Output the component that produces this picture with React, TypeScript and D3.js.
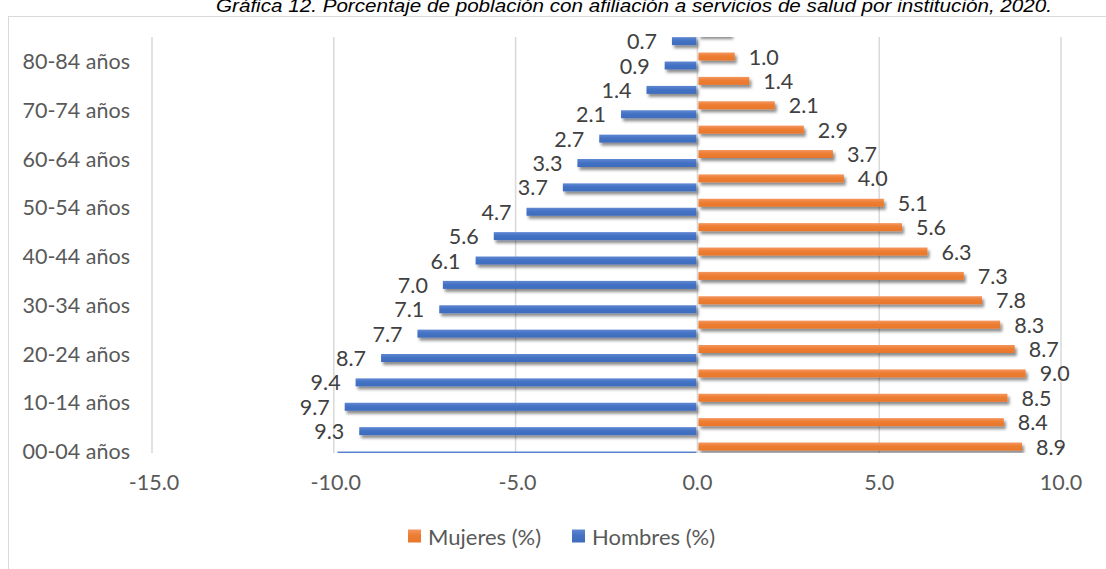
import React from "react";
import * as d3 from "d3";

const ages = [
  "00-04 años", "05-09 años", "10-14 años", "15-19 años", "20-24 años", "25-29 años",
  "30-34 años", "35-39 años", "40-44 años", "45-49 años", "50-54 años", "55-59 años",
  "60-64 años", "65-69 años", "70-74 años", "75-79 años", "80-84 años", "85 años y más",
];
const hombres = [9.9, 9.3, 9.7, 9.4, 8.7, 7.7, 7.1, 7.0, 6.1, 5.6, 4.7, 3.7, 3.3, 2.7, 2.1, 1.4, 0.9, 0.7];
const mujeres = [8.9, 8.4, 8.5, 9.0, 8.7, 8.3, 7.8, 7.3, 6.3, 5.6, 5.1, 4.0, 3.7, 2.9, 2.1, 1.4, 1.0, 0.9];
const xTicks = [-15, -10, -5, 0, 5, 10];
const seriesNames = ["Mujeres (%)", "Hombres (%)"];
const title = "Gráfica 12. Porcentaje de población con afiliación a servicios de salud por institución, 2020.";

const W = 1106;
const H = 569;
const FONT = "Lato, 'Open Sans', sans-serif";
const FS = 21.5;
const ORANGE = "#ED7D31";
const BLUE = "#4472C4";

export default function App() {
  const x = d3.scaleLinear().domain([-15, 10]).range([152, 1061]);
  const y = d3.scalePoint<string>().domain(ages).range([451, 451 - 17 * 24.375]);
  const clipTop = 37;
  const clipBottom = 453;
  const barH = 8;
  const off = 4.5;
  const fmt = (v: number) => d3.format(".1f")(v).replace("\u2212", "-");

  return (
    <svg width={W} height={H} style={{ position: "absolute", left: 0, top: 0, background: "#fff" }}>
      <defs>
        <clipPath id="plotClip">
          <rect x={0} y={clipTop} width={W} height={clipBottom - clipTop} />
        </clipPath>
        <filter id="sh" filterUnits="userSpaceOnUse" x={0} y={0} width={W} height={H}>
          <feDropShadow dx={2} dy={3} stdDeviation={1.6} floodColor="#000" floodOpacity={0.45} />
        </filter>
        <linearGradient id="gO" x1="0" y1="0" x2="0" y2="1">
          <stop offset="0" stopColor="#F49660" />
          <stop offset="0.45" stopColor={ORANGE} />
          <stop offset="1" stopColor="#E8772C" />
        </linearGradient>
        <linearGradient id="gB" x1="0" y1="0" x2="0" y2="1">
          <stop offset="0" stopColor="#6088D2" />
          <stop offset="0.45" stopColor={BLUE} />
          <stop offset="1" stopColor="#3F6CBD" />
        </linearGradient>
      </defs>
      <rect x={0} y={0} width={W} height={H} fill="#fff" />
      <text
        x={634}
        y={12}
        textAnchor="middle"
        fontFamily="Arial, 'Liberation Sans', sans-serif"
        fontStyle="italic"
        fontSize={18}
        fill="#000"
        textLength={836}
        lengthAdjust="spacingAndGlyphs"
      >
        {title}
      </text>
      <rect x={8.5} y={16.5} width={W + 10} height={H + 10} fill="none" stroke="#d9d9d9" strokeWidth={1} />

      {/* gridlines */}
      {xTicks.map((t) => (
        <line key={t} x1={x(t)} x2={x(t)} y1={clipTop} y2={clipBottom} stroke="#d9d9d9" strokeWidth={1.5} />
      ))}

      {/* bars */}
      <g clipPath="url(#plotClip)">
        {ages.map((a, i) => (
          <g key={a}>
            <rect
              x={x(0) + 1}
              y={(y(a) as number) - off - barH / 2}
              width={x(mujeres[i]) - x(0)}
              height={barH}
              fill="url(#gO)"
              filter="url(#sh)"
            />
            <rect
              x={x(-hombres[i])}
              y={(y(a) as number) + off - barH / 2}
              width={x(0) - x(-hombres[i]) - 1}
              height={barH}
              fill="url(#gB)"
              filter="url(#sh)"
            />
          </g>
        ))}
      </g>

      {/* data labels */}
      {ages.map((a, i) => {
        const yo = (y(a) as number) - off;
        const yb = (y(a) as number) + off;
        return (
          <g key={"l" + a} fontFamily={FONT} fontSize={FS} fill="#404040">
            {yo >= clipTop && yo <= clipBottom && (
              <text x={x(mujeres[i]) + 15} y={yo} dominantBaseline="central">
                {fmt(mujeres[i])}
              </text>
            )}
            {yb >= clipTop && yb <= clipBottom && (
              <text x={x(-hombres[i]) - 15} y={yb} textAnchor="end" dominantBaseline="central">
                {fmt(hombres[i])}
              </text>
            )}
          </g>
        );
      })}

      {/* category labels */}
      {ages.map((a, i) =>
        i % 2 === 0 && i < 17 ? (
          <text
            key={"c" + a}
            x={130}
            y={y(a) as number}
            textAnchor="end"
            dominantBaseline="central"
            fontFamily={FONT}
            fontSize={FS}
            fill="#595959"
          >
            {a}
          </text>
        ) : null
      )}

      {/* x tick labels */}
      {xTicks.map((t) => (
        <text
          key={"t" + t}
          x={x(t) + (t < 0 ? 2 : 0)}
          y={482}
          textAnchor="middle"
          dominantBaseline="central"
          fontFamily={FONT}
          fontSize={FS}
          fill="#595959"
        >
          {fmt(t)}
        </text>
      ))}

      {/* legend */}
      <g fontFamily={FONT} fontSize={22} fill="#595959">
        <rect x={408} y={529.5} width={13} height={13} fill="url(#gO)" />
        <text x={428} y={536.5} dominantBaseline="central">{seriesNames[0]}</text>
        <rect x={572} y={529.5} width={13} height={13} fill="url(#gB)" />
        <text x={592} y={536.5} dominantBaseline="central">{seriesNames[1]}</text>
      </g>
    </svg>
  );
}
